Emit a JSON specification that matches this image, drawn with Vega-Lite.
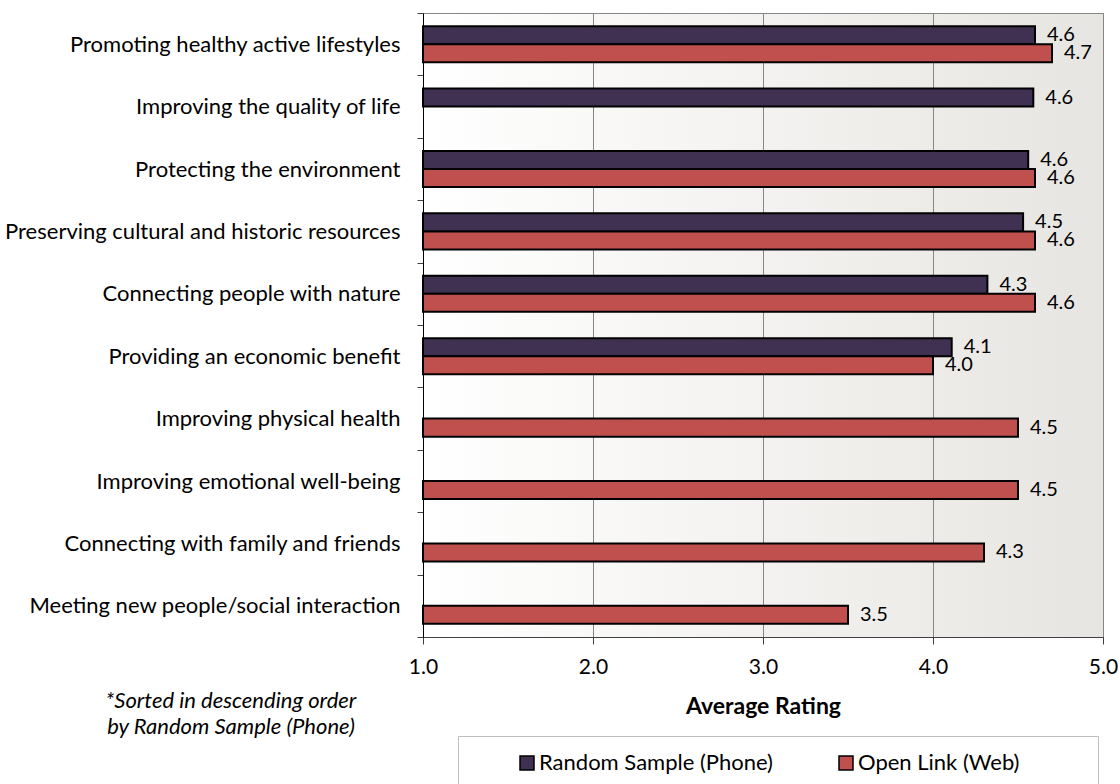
{
  "$schema": "https://vega.github.io/schema/vega-lite/v6.json",
  "width": 680,
  "height": 624,
  "autosize": {"type": "none"},
  "padding": {"left": 423, "top": 13, "right": 17, "bottom": 147},
  "background": "white",
  "config": {
    "font": "Lato",
    "view": {
      "stroke": "#868686",
      "strokeWidth": 1,
      "fill": {"gradient": "linear", "x1": 0, "y1": 0, "x2": 1, "y2": 0,
        "stops": [{"offset": 0, "color": "#ffffff"}, {"offset": 0.5, "color": "#f3f2f0"}, {"offset": 1, "color": "#e7e5e1"}]}
    }
  },
  "title": {
    "text": ["*Sorted in descending order", "by Random Sample (Phone)"],
    "orient": "bottom",
    "anchor": "start",
    "frame": "group",
    "align": "center",
    "baseline": "top",
    "dx": -192,
    "dy": -104,
    "fontSize": 22,
    "fontStyle": "italic",
    "fontWeight": "normal",
    "color": "black",
    "lineHeight": 26
  },
  "data": {
    "values": [
      {"item": "Promoting healthy active lifestyles", "source": "Random Sample (Phone)", "rating": 4.60},
      {"item": "Promoting healthy active lifestyles", "source": "Open Link (Web)", "rating": 4.70},
      {"item": "Improving the quality of life", "source": "Random Sample (Phone)", "rating": 4.59},
      {"item": "Protecting the environment ", "source": "Random Sample (Phone)", "rating": 4.56},
      {"item": "Protecting the environment ", "source": "Open Link (Web)", "rating": 4.60},
      {"item": "Preserving cultural and historic resources", "source": "Random Sample (Phone)", "rating": 4.53},
      {"item": "Preserving cultural and historic resources", "source": "Open Link (Web)", "rating": 4.60},
      {"item": "Connecting people with nature", "source": "Random Sample (Phone)", "rating": 4.32},
      {"item": "Connecting people with nature", "source": "Open Link (Web)", "rating": 4.60},
      {"item": "Providing an economic benefit", "source": "Random Sample (Phone)", "rating": 4.11},
      {"item": "Providing an economic benefit", "source": "Open Link (Web)", "rating": 4.00},
      {"item": "Improving physical health", "source": "Open Link (Web)", "rating": 4.50},
      {"item": "Improving emotional well-being", "source": "Open Link (Web)", "rating": 4.50},
      {"item": "Connecting with family and friends", "source": "Open Link (Web)", "rating": 4.30},
      {"item": "Meeting new people/social interaction", "source": "Open Link (Web)", "rating": 3.50}
    ]
  },
  "encoding": {
    "y": {
      "field": "item",
      "type": "nominal",
      "sort": ["Promoting healthy active lifestyles", "Improving the quality of life", "Protecting the environment ", "Preserving cultural and historic resources", "Connecting people with nature", "Providing an economic benefit", "Improving physical health", "Improving emotional well-being", "Connecting with family and friends", "Meeting new people/social interaction"],
      "scale": {"paddingInner": 0, "paddingOuter": 0},
      "axis": {
        "title": null,
        "tickBand": "extent",
        "tickSize": 6,
        "tickColor": "#404040",
        "domainColor": "#000000",
        "labelFontSize": 22,
        "labelColor": "black",
        "labelPadding": 17,
        "labelLimit": 600,
        "grid": false
      }
    },
    "yOffset": {
      "field": "source",
      "type": "nominal",
      "scale": {"domain": ["Random Sample (Phone)", "Open Link (Web)"], "paddingInner": 0, "paddingOuter": 0.73}
    }
  },
  "layer": [
    {
      "mark": {"type": "bar", "stroke": "black", "strokeWidth": 2},
      "encoding": {
        "x": {
          "field": "rating",
          "type": "quantitative",
          "scale": {"domain": [1, 5], "zero": false, "nice": false},
          "axis": {
            "values": [1, 2, 3, 4, 5],
            "format": ".1f",
            "grid": true,
            "gridColor": "#868686",
            "gridWidth": 1,
            "domainColor": "#404040",
            "tickColor": "#404040",
            "tickSize": 7,
            "labelFontSize": 21,
            "labelColor": "black",
            "labelPadding": 12,
            "labelFlush": false,
            "title": "Average Rating",
            "titleFontSize": 23,
            "titleFontWeight": "bold",
            "titleColor": "black",
            "titlePadding": 18
          }
        },
        "x2": {"datum": 1},
        "color": {
          "field": "source",
          "type": "nominal",
          "scale": {"domain": ["Random Sample (Phone)", "Open Link (Web)"], "range": ["#403152", "#C0504D"]},
          "legend": {
            "title": null,
            "orient": "none",
            "legendX": 35,
            "legendY": 723,
            "direction": "horizontal",
            "columns": 2,
            "symbolType": "square",
            "symbolSize": 196,
            "symbolStrokeColor": "black",
            "symbolStrokeWidth": 1.5,
            "symbolOpacity": 1,
            "symbolOffset": 42,
            "labelFontSize": 22,
            "labelColor": "black",
            "labelOffset": 1,
            "labelLimit": 400,
            "labelExpr": "datum.label == 'Open Link (Web)' ? datum.label + '\u00a0\u00a0\u00a0\u00a0\u00a0\u00a0\u00a0\u00a0\u00a0\u00a0\u00a0\u200b' : datum.label",
            "columnPadding": 20,
            "strokeColor": "#bfbfbf",
            "fillColor": "white",
            "padding": 16
          }
        }
      }
    },
    {
      "mark": {"type": "text", "align": "left", "baseline": "middle", "dx": 12, "fontSize": 20, "color": "black"},
      "encoding": {
        "x": {"field": "rating", "type": "quantitative"},
        "text": {"field": "rating", "type": "quantitative", "format": ".1f"}
      }
    }
  ]
}
